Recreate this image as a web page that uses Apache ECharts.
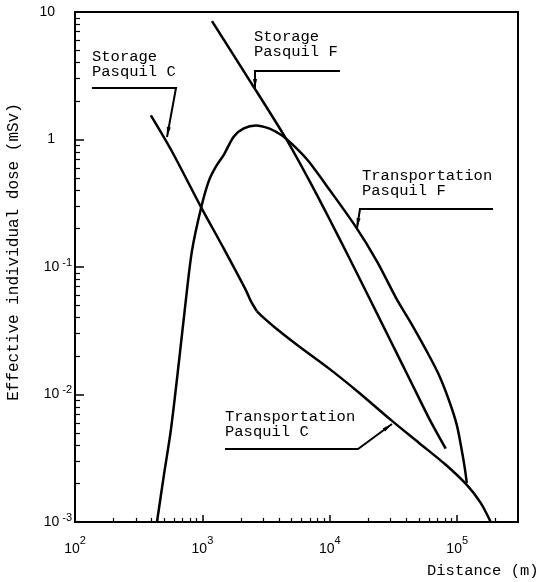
<!DOCTYPE html>
<html><head><meta charset="utf-8">
<script src="https://cdn.jsdelivr.net/npm/echarts@6/dist/echarts.min.js"></script>
<style>html,body{margin:0;padding:0;background:#fff}#c{width:540px;height:582px}</style>
</head><body><div id="c"></div>
<script>
// ---- axis ranges and tick labels ----
const xMin = 100, xMax = 300000;
const yMin = 0.001, yMax = 10;
const xMajorTicks = [100, 1000, 10000, 100000];
const xTickLabels = ['10^2', '10^3', '10^4', '10^5'];
const yMajorTicks = [0.001, 0.01, 0.1, 1, 10];
const yTickLabels = ['10^-3', '10^-2', '10^-1', '1', '10'];

// ---- curves: [distance (m), dose (mSv)] ----
const storageC = [
  [394, 1.545], [577, 0.805], [973, 0.2965], [1476, 0.1387], [2193, 0.0659],
  [2400, 0.0540], [2673, 0.0451]
];
const transportC = [
  [2673, 0.0451], [2985, 0.0404], [3767, 0.0331], [5715, 0.0239], [9817, 0.01603],
  [16870, 0.01038], [30620, 0.00624], [49890, 0.00419], [81280, 0.00281],
  [118900, 0.001954], [152800, 0.001413], [183200, 0.001]
];
const storageF = [
  [1189, 8.49], [2317, 2.965], [4519, 1.019], [6839, 0.484], [9817, 0.2432],
  [14090, 0.1199], [20230, 0.0581], [29040, 0.0281], [41690, 0.01361],
  [59700, 0.00659], [81280, 0.00376]
];
const transportF = [
  [440, 0.001], [499, 0.002344], [566, 0.0053], [655, 0.0182], [743, 0.056],
  [828, 0.1337], [973, 0.2864], [1125, 0.4753], [1276, 0.6124], [1476, 0.762],
  [1766, 1.057], [2113, 1.222], [2630, 1.288], [3327, 1.222], [3981, 1.114],
  [4519, 1.019], [5715, 0.818], [6839, 0.671], [9817, 0.411], [16000, 0.2065],
  [23390, 0.1114], [33500, 0.056], [43950, 0.03556], [56620, 0.0226],
  [71610, 0.01436], [85700, 0.00914], [99080, 0.00581], [108400, 0.00369],
  [114600, 0.00266], [118900, 0.00203]
];

// minor ticks (2..9 of each decade)
function minors(lo, hi) {
  const out = [];
  for (let e = Math.floor(Math.log10(lo)); e <= Math.ceil(Math.log10(hi)); e++) {
    for (let k = 2; k <= 9; k++) {
      const v = Number((k * Math.pow(10, e)).toPrecision(6));
      if (v > lo && v < hi) out.push(v);
    }
  }
  return out;
}
const xMinor = minors(xMin, xMax);
const yMinor = minors(yMin, yMax);

function labelFor(ticks, labels, plainStyle) {
  return function (v) {
    for (let i = 0; i < ticks.length; i++) {
      if (Math.abs(Math.log10(v) - Math.log10(ticks[i])) < 1e-6) {
        const p = labels[i].split('^');
        return p.length > 1 ? '{b|' + p[0] + '}{s|' + p[1] + '}' : '{' + plainStyle + '|' + p[0] + '}';
      }
    }
    return '';
  };
}

const numFont = 'Liberation Sans';
const annFont = '15.5px "Liberation Mono"';
const titleFont = '16px "Liberation Mono"';
const grid = { left: 75, right: 22, top: 12, bottom: 60 };

function series(name, data) {
  return {
    name: name, type: 'line', xAxisIndex: 0, yAxisIndex: 0, data: data,
    showSymbol: false, symbol: 'none', smooth: 0.3,
    lineStyle: { color: '#000', width: 2.5 }, z: 5
  };
}

function arrowHead(p0, p1, len, hw) {
  const dx = p1[0] - p0[0], dy = p1[1] - p0[1];
  const L = Math.sqrt(dx * dx + dy * dy);
  const ux = dx / L, uy = dy / L;
  const bx = p1[0] - ux * len, by = p1[1] - uy * len;
  return [[p1[0], p1[1]], [bx - uy * hw, by + ux * hw], [bx + uy * hw, by - ux * hw]];
}

const pointers = [
  [[92, 88], [176, 88], [167, 137]],
  [[340, 71], [255, 71], [255, 89]],
  [[493, 209], [360, 209], [357, 228]],
  [[225, 449], [358, 449], [392, 424]]
];
const notes = [
  { text: 'Storage\nPasquil C', x: 92, y: 49 },
  { text: 'Storage\nPasquil F', x: 254, y: 29 },
  { text: 'Transportation\nPasquil F', x: 362, y: 168 },
  { text: 'Transportation\nPasquil C', x: 225, y: 409 }
];

const graphic = [];
notes.forEach(n => graphic.push({
  type: 'text', x: n.x, y: n.y, z: 10,
  style: { text: n.text, font: annFont, fill: '#000', lineHeight: 15 }
}));
pointers.forEach(p => {
  graphic.push({ type: 'polyline', z: 10, shape: { points: p },
    style: { stroke: '#000', lineWidth: 2, fill: null } });
  graphic.push({ type: 'polygon', z: 10,
    shape: { points: arrowHead(p[p.length - 2], p[p.length - 1], 10, 2) },
    style: { fill: '#000' } });
});
graphic.push({
  type: 'text', x: 14, y: 252, rotation: Math.PI / 2, z: 10,
  style: { text: 'Effective individual dose (mSv)', font: titleFont, fill: '#000',
    align: 'center', verticalAlign: 'middle', textAlign: 'center', textVerticalAlign: 'middle' }
});
graphic.push({
  type: 'text', x: 427, y: 563, z: 10,
  style: { text: 'Distance (m)', font: annFont, fill: '#000' }
});

const chart = echarts.init(document.getElementById('c'), null, { renderer: 'canvas' });
chart.setOption({
  animation: false,
  backgroundColor: '#fff',
  grid: [
    Object.assign({ show: true, borderColor: '#000', borderWidth: 2, backgroundColor: 'transparent' }, grid),
    Object.assign({ show: false }, grid)
  ],
  xAxis: [
    {
      type: 'log', logBase: 10, min: xMin, max: xMax, gridIndex: 0,
      axisLine: { lineStyle: { color: '#000', width: 2 } },
      axisTick: { inside: true, length: 7, customValues: xMajorTicks, lineStyle: { color: '#000', width: 1.5 } },
      axisLabel: {
        customValues: xMajorTicks, formatter: labelFor(xMajorTicks, xTickLabels, 'b'), margin: 13,
        color: '#000',
        rich: {
          b: { fontSize: 14, fontFamily: numFont, lineHeight: 28, color: '#000' },
          s: { fontSize: 11, fontFamily: numFont, lineHeight: 12, verticalAlign: 'top', color: '#000' }
        }
      },
      splitLine: { show: false }, minorTick: { show: false }
    },
    {
      type: 'log', logBase: 10, min: xMin, max: xMax, gridIndex: 1,
      axisLine: { show: false },
      axisTick: { inside: true, length: 4, customValues: xMinor, lineStyle: { color: '#000', width: 1.2 } },
      axisLabel: { show: false }, splitLine: { show: false }
    }
  ],
  yAxis: [
    {
      type: 'log', logBase: 10, min: yMin, max: yMax, gridIndex: 0,
      axisLine: { lineStyle: { color: '#000', width: 2 } },
      axisTick: { inside: true, length: 9, customValues: yMajorTicks, lineStyle: { color: '#000', width: 1.5 } },
      axisLabel: {
        customValues: yMajorTicks, formatter: labelFor(yMajorTicks, yTickLabels, 'n'), margin: 3,
        color: '#000',
        rich: {
          b: { fontSize: 14, fontFamily: numFont, lineHeight: 20, color: '#000' },
          n: { fontSize: 14, fontFamily: numFont, lineHeight: 20, color: '#000', padding: [0, 17, 0, 0] },
          s: { fontSize: 11, fontFamily: numFont, lineHeight: 10, verticalAlign: 'top', color: '#000', padding: [0, 0, 0, 3] }
        }
      },
      splitLine: { show: false }, minorTick: { show: false }
    },
    {
      type: 'log', logBase: 10, min: yMin, max: yMax, gridIndex: 1,
      axisLine: { show: false },
      axisTick: { inside: true, length: 5, customValues: yMinor, lineStyle: { color: '#000', width: 1.2 } },
      axisLabel: { show: false }, splitLine: { show: false }
    }
  ],
  series: [
    series('Storage Pasquil C', storageC),
    series('Transportation Pasquil C', transportC),
    series('Storage Pasquil F', storageF),
    series('Transportation Pasquil F', transportF)
  ],
  graphic: graphic
});
</script>
</body></html>
